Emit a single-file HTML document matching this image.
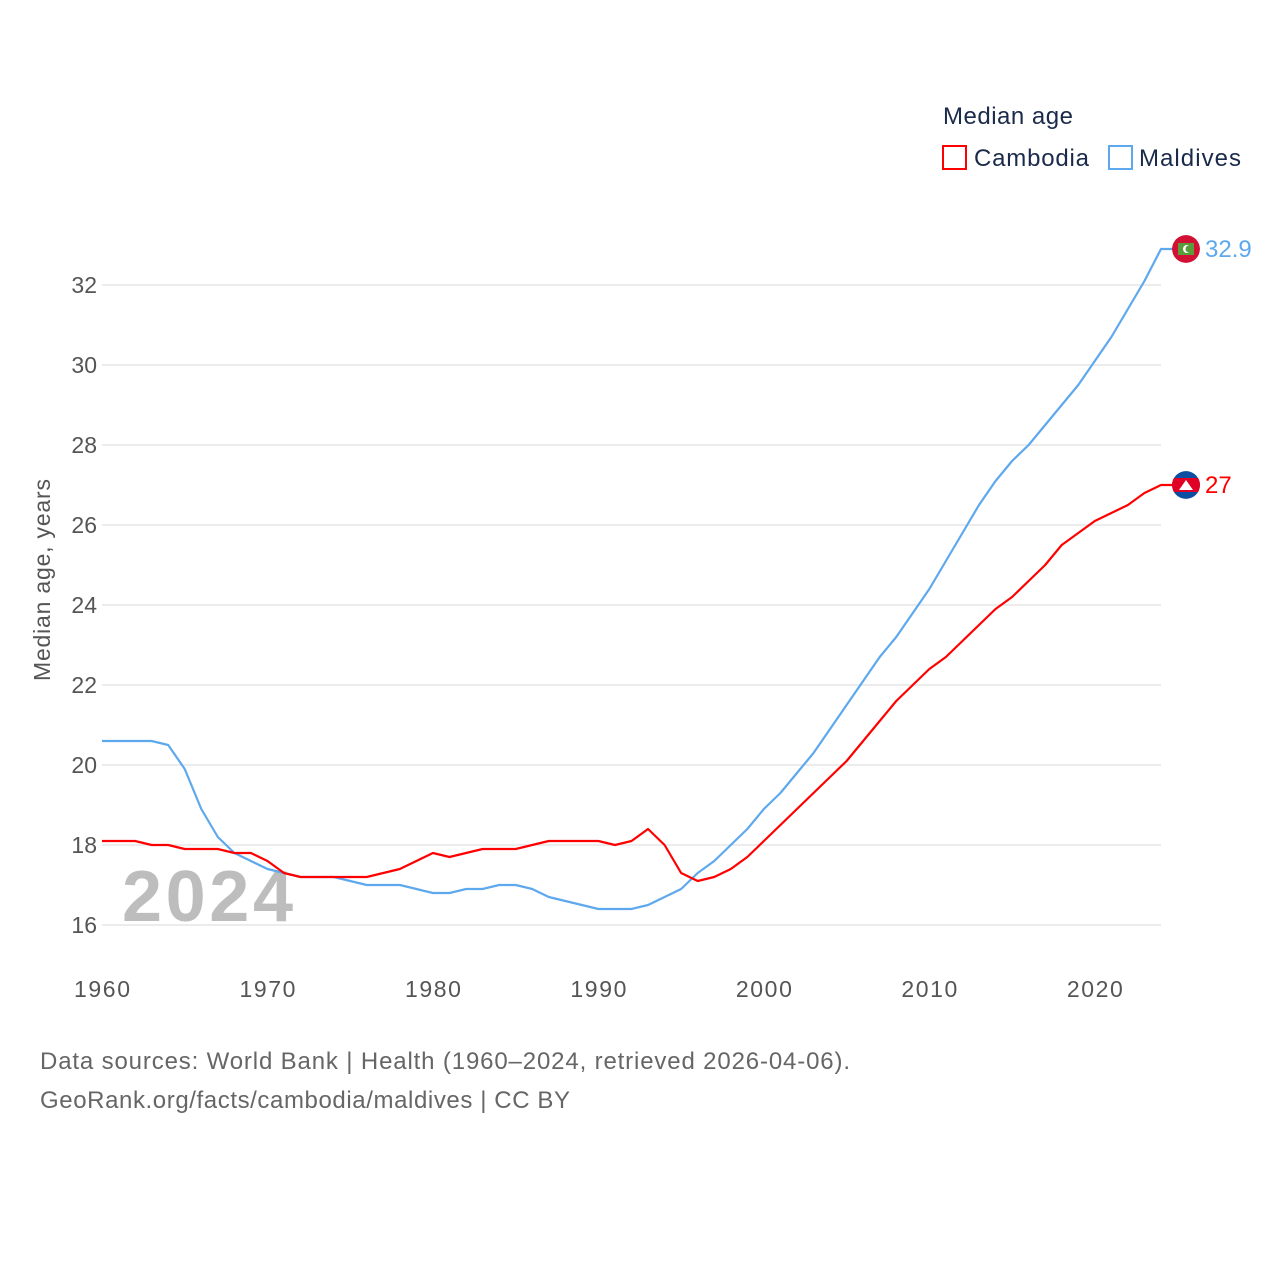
<!DOCTYPE html>
<html><head><meta charset="utf-8"><style>
body{margin:0;background:#fff;font-family:"Liberation Sans",sans-serif}
svg text{font-family:"Liberation Sans",sans-serif}
</style></head><body>
<svg width="1280" height="1280">
<defs><clipPath id="fc"><circle cx="0" cy="0" r="14"/></clipPath></defs>
<text x="943" y="124" font-size="24" fill="#1a2a4a" textLength="130">Median age</text>
<g><rect x="943" y="146" width="23" height="23" fill="none" stroke="#f00" stroke-width="2"/><text x="974" y="166" font-size="24" fill="#1a2a4a" textLength="115">Cambodia</text></g>
<g><rect x="1109" y="146" width="23" height="23" fill="none" stroke="#5ea8ee" stroke-width="2"/><text x="1139" y="166" font-size="24" fill="#1a2a4a" textLength="102">Maldives</text></g>
<g id="grid"></g>
<g id="yt"></g>
<g id="xt"></g>
<text transform="translate(50,580) rotate(-90)" text-anchor="middle" font-size="23" fill="#555" textLength="202">Median age, years</text>
<text x="122" y="921" font-size="72" font-weight="bold" fill="#bdbdbd" textLength="171">2024</text>
<g id="series"></g>
<text x="40" y="1069" font-size="24" fill="#666" textLength="810">Data sources: World Bank | Health (1960–2024, retrieved 2026-04-06).</text>
<text x="40" y="1108" font-size="24" fill="#666" textLength="530">GeoRank.org/facts/cambodia/maldives | CC BY</text>
</svg>
<script>
const years=[];for(let y=1960;y<=2024;y++)years.push(y);
const cambodia=[18.1,18.1,18.1,18.0,18.0,17.9,17.9,17.9,17.8,17.8,17.6,17.3,17.2,17.2,17.2,17.2,17.2,17.3,17.4,17.6,17.8,17.7,17.8,17.9,17.9,17.9,18.0,18.1,18.1,18.1,18.1,18.0,18.1,18.4,18.0,17.3,17.1,17.2,17.4,17.7,18.1,18.5,18.9,19.3,19.7,20.1,20.6,21.1,21.6,22.0,22.4,22.7,23.1,23.5,23.9,24.2,24.6,25.0,25.5,25.8,26.1,26.3,26.5,26.8,27.0];
const maldives=[20.6,20.6,20.6,20.6,20.5,19.9,18.9,18.2,17.8,17.6,17.4,17.3,17.2,17.2,17.2,17.1,17.0,17.0,17.0,16.9,16.8,16.8,16.9,16.9,17.0,17.0,16.9,16.7,16.6,16.5,16.4,16.4,16.4,16.5,16.7,16.9,17.3,17.6,18.0,18.4,18.9,19.3,19.8,20.3,20.9,21.5,22.1,22.7,23.2,23.8,24.4,25.1,25.8,26.5,27.1,27.6,28.0,28.5,29.0,29.5,30.1,30.7,31.4,32.1,32.9];
const yTicks=[16,18,20,22,24,26,28,30,32];
const xTicks=[1960,1970,1980,1990,2000,2010,2020];
const X=y=>102+(y-1960)*(1161-102)/64;
const Y=v=>925-(v-16)*40;
const NS="http://www.w3.org/2000/svg";
function mk(t,a,p){const e=document.createElementNS(NS,t);for(const k in a)e.setAttribute(k,a[k]);p.appendChild(e);return e;}
const grid=document.getElementById('grid'),yt=document.getElementById('yt'),xt=document.getElementById('xt'),ser=document.getElementById('series');
yTicks.forEach(v=>{
 const l=mk('line',{x1:102,x2:1161,y1:Y(v),y2:Y(v),stroke:'#e6e6e6','stroke-width':1.5},grid);
 
 
 const t=mk('text',{x:97,y:Y(v)+8,'text-anchor':'end','font-size':23,fill:'#555'},yt);t.textContent=v;
 
 
});
xTicks.forEach(v=>{
 const t=mk('text',{x:X(v),y:997,'text-anchor':'middle','font-size':23,fill:'#555',textLength:56},xt);t.textContent=v;
 
 
});
function draw(vals,color,name,label,flag){
 const pts=vals.map((v,i)=>X(years[i])+','+Y(v)).join(' ');
 const last=vals[vals.length-1];
 const pl=mk('polyline',{points:pts+' '+1186+','+Y(last),fill:'none',stroke:color,'stroke-width':2.2,'stroke-linejoin':'round'},ser);
 
 
 const g=mk('g',{transform:`translate(1186,${Y(last)})`},ser);
 
 
 const inner=mk('g',{'clip-path':'url(#fc)'},g);
 flag(inner);
 const t=mk('text',{x:1205,y:Y(last)+8,'font-size':24,fill:color},ser);t.textContent=label;
 
 
}
draw(maldives,'#5ea8ee','maldives','32.9',g=>{
 mk('circle',{cx:0,cy:0,r:14,fill:'#d21034'},g);
 mk('rect',{x:-8,y:-6,width:16,height:12,fill:'#5a9c3a'},g);
 mk('circle',{cx:1,cy:0,r:4,fill:'#fff'},g);mk('circle',{cx:3,cy:0,r:3.5,fill:'#5a9c3a'},g);
});
draw(cambodia,'#f00','cambodia','27',g=>{
 mk('circle',{cx:0,cy:0,r:14,fill:'#0b4ea2'},g);
 mk('rect',{x:-14,y:-7,width:28,height:14,fill:'#e00025'},g);
 mk('polygon',{points:'-7,5 7,5 0,-5',fill:'#fff'},g);
});
</script>
</body></html>
